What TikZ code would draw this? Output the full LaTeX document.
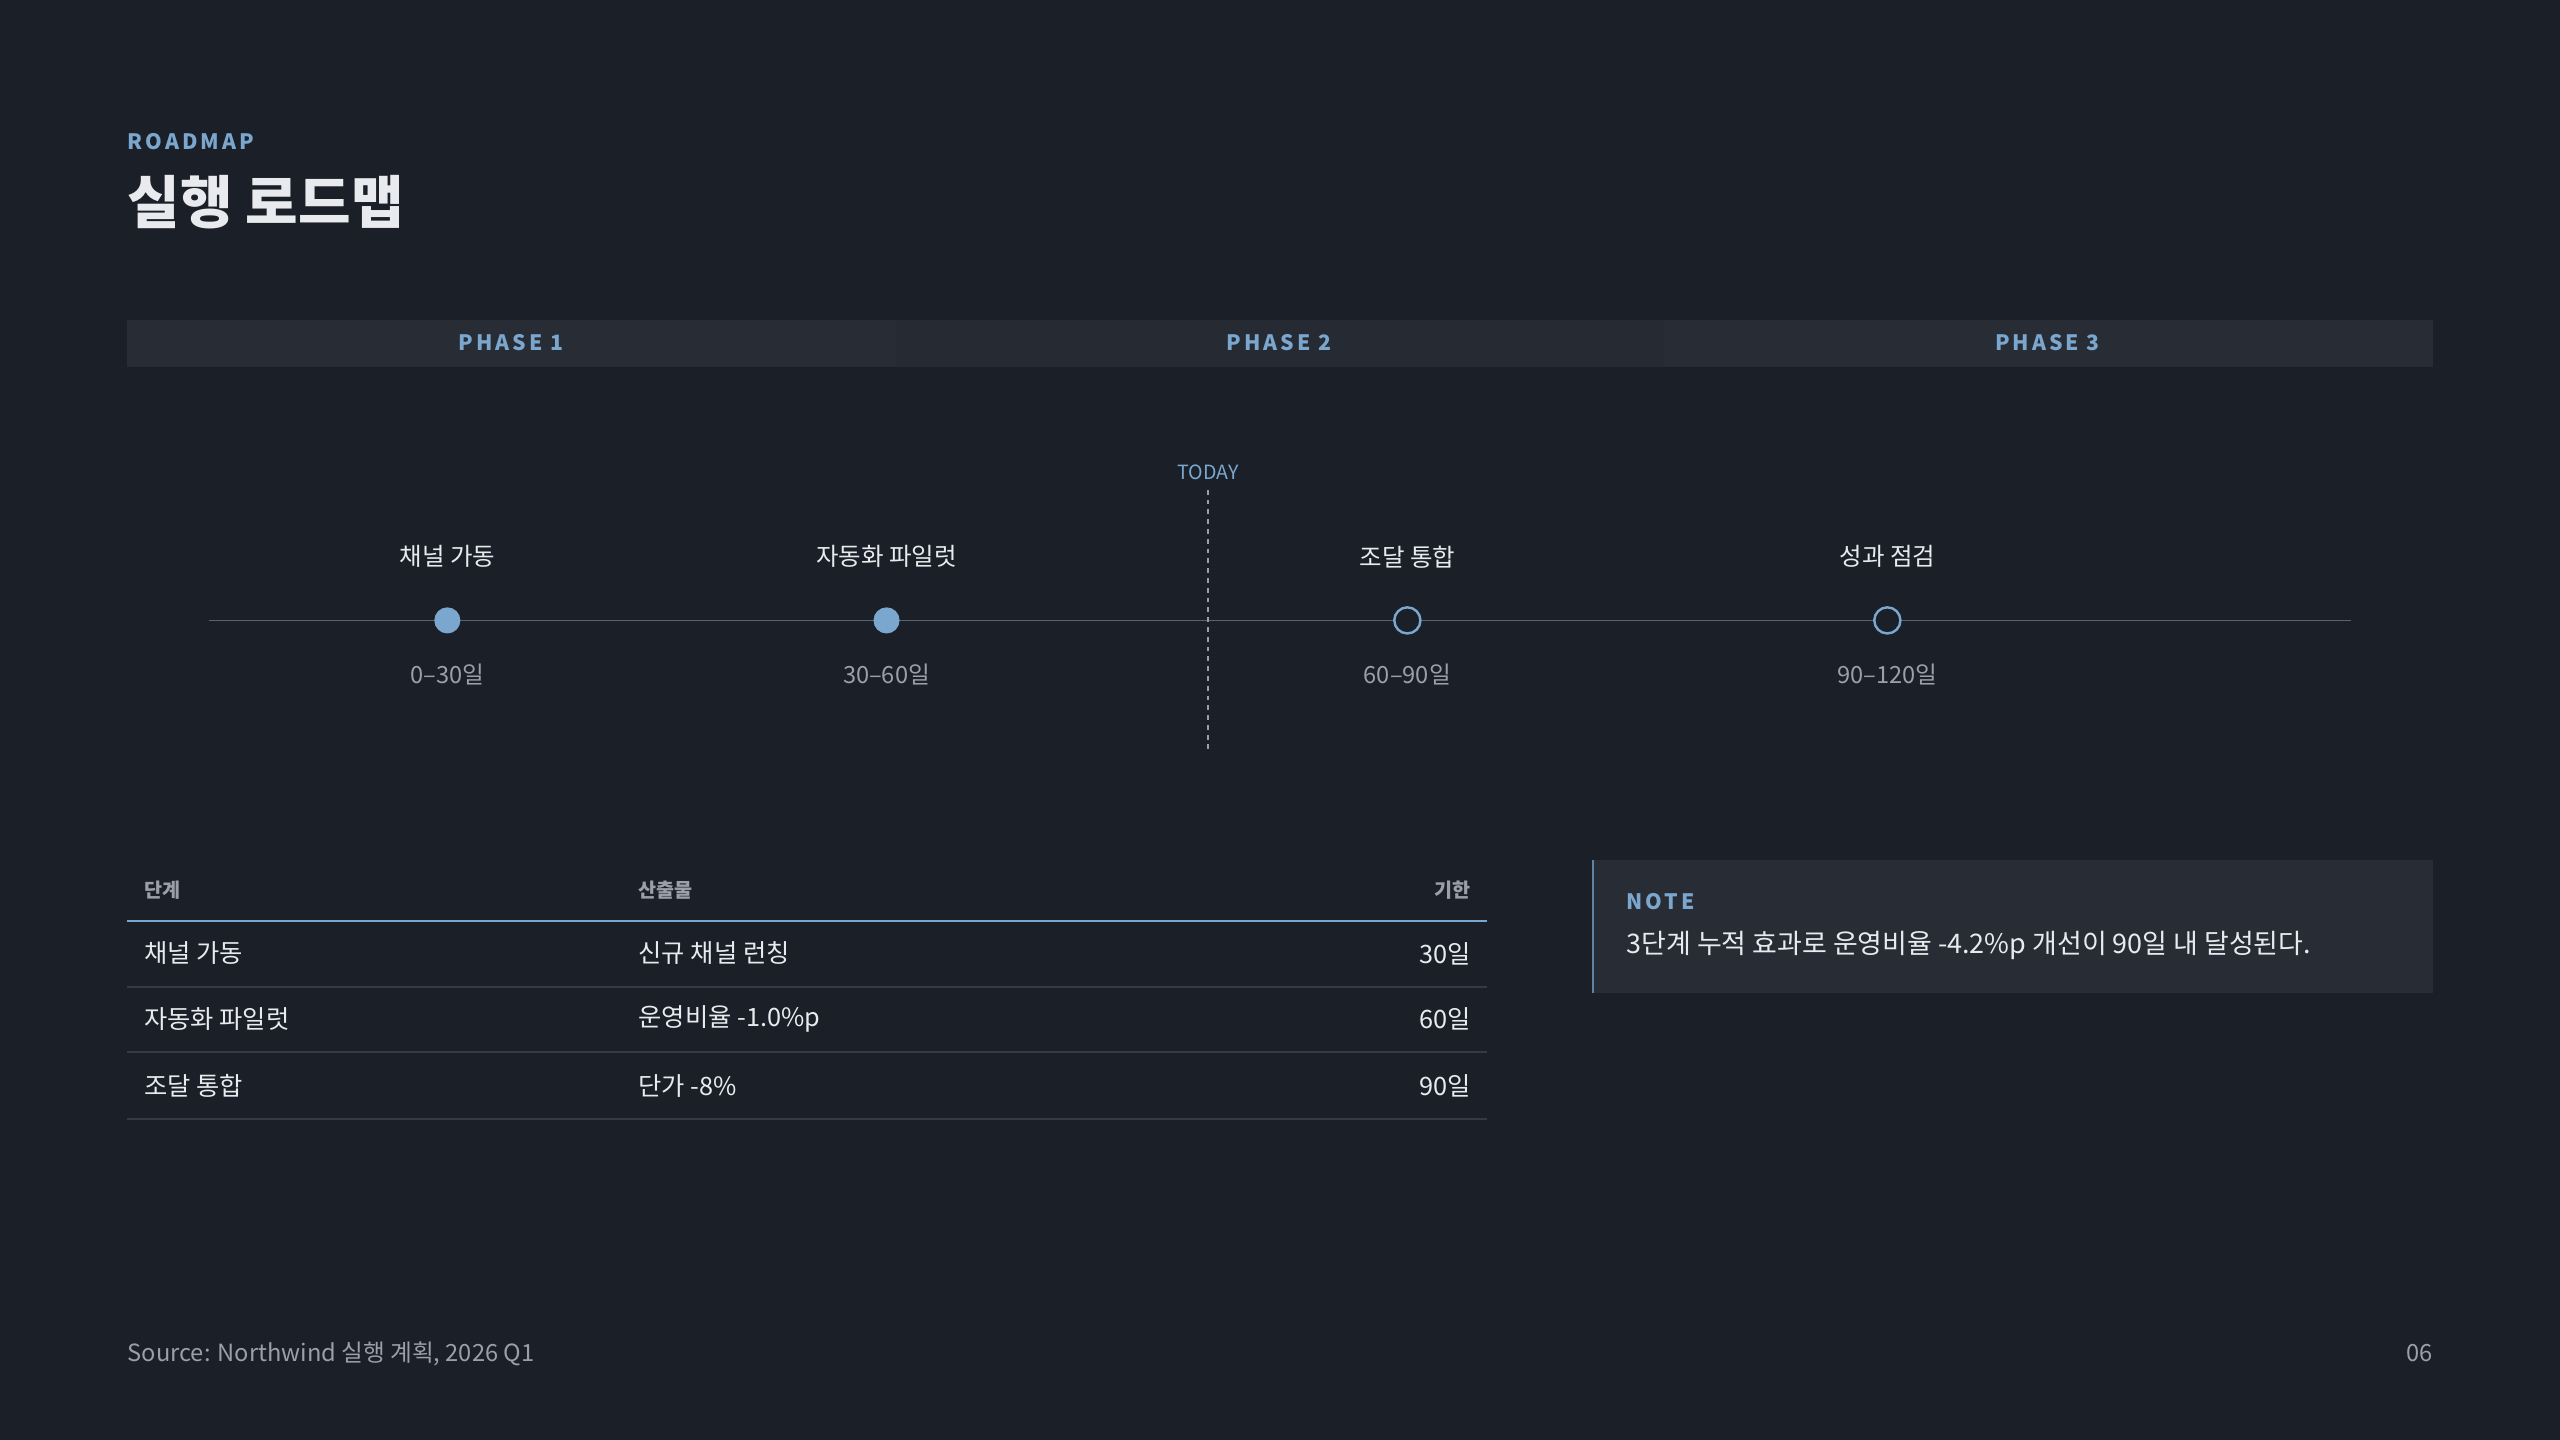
\documentclass[tikz,border=0pt]{standalone}
\usepackage{fontspec}
\setmainfont{Noto Sans CJK KR}
\newfontfamily\spaced[LetterSpace=14]{Noto Sans CJK KR}
\definecolor{bg}{HTML}{1B1F27}
\definecolor{panel}{HTML}{272C35}
\definecolor{acc}{HTML}{7BA7CF}
\definecolor{txt}{HTML}{E8EAED}
\definecolor{mut}{HTML}{9AA0A8}
\definecolor{rule}{HTML}{353A44}
\definecolor{tl}{HTML}{5C626C}
\tikzset{
 lab/.style={inner sep=0,font=\fontsize{15}{18}\selectfont,text=txt},
 sub/.style={inner sep=0,font=\fontsize{14.5}{17}\selectfont,text=mut},
 ph/.style={inner sep=0,font=\spaced\bfseries\fontsize{13}{16}\selectfont,text=acc},
 th/.style={inner sep=0,font=\fontsize{12}{15}\selectfont,text=mut},
 td/.style={inner sep=0,font=\fontsize{15.5}{18}\selectfont,text=txt},
 done/.style={circle,fill=acc,minimum size=16pt,inner sep=0},
 todo/.style={circle,draw=acc,line width=1.5pt,fill=bg,minimum size=16pt,inner sep=0},
}
\begin{document}
\begin{tikzpicture}[x=1pt,y=-1pt]
\fill[bg] (0,0) rectangle (1568,882);
\useasboundingbox (0,0) rectangle (1568,882);
\node[ph,anchor=west] (kick) at (78,87) {ROADMAP};
\node[inner sep=0,anchor=west,font=\fontsize{35}{40}\selectfont\bfseries,text=txt] (title) at (78,124) {실행 로드맵};
% phase bar
\fill[panel] (78,196) rectangle (548.7,225);
\fill[panel!85!bg] (548.7,196) rectangle (1019.3,225);
\fill[panel] (1019.3,196) rectangle (1490,225);
\node[ph] (p1) at (313,210) {PHASE 1};
\node[ph] (p2) at (783.5,210) {PHASE 2};
\node[ph] (p3) at (1254,210) {PHASE 3};
% timeline
\coordinate (tl0) at (128,380);
\coordinate (tl1) at (1440,380);
\draw[tl,line width=1pt] (tl0) -- (tl1);
\coordinate (td0) at (740,300);
\coordinate (td1) at (740,460);
\draw[mut,dashed,line width=1pt] (td0) -- (td1);
\node[inner sep=0,font=\fontsize{12}{15}\selectfont,text=acc] (today) at (740,289) {TODAY};
\node[done] (m1) at (274,380) {};
\node[done] (m2) at (543,380) {};
\node[todo] (m3) at (862,380) {};
\node[todo] (m4) at (1156,380) {};
\node[lab] (l1) at (274,341) {채널 가동};
\node[lab] (l2) at (543,341) {자동화 파일럿};
\node[lab] (l3) at (862,341) {조달 통합};
\node[lab] (l4) at (1156,341) {성과 점검};
\node[sub] (s1) at (274,413) {0–30일};
\node[sub] (s2) at (543,413) {30–60일};
\node[sub] (s3) at (862,413) {60–90일};
\node[sub] (s4) at (1156,413) {90–120일};
% table
\node[th,anchor=west] (h1) at (88,545) {\bfseries 단계};
\node[th,anchor=west] (h2) at (391,545) {\bfseries 산출물};
\node[th,anchor=east] (h3) at (901,545) {\bfseries 기한};
\draw[acc,line width=1.2pt] (78,564) -- (911,564);
\foreach \y/\a/\b/\c in {584/채널 가동/신규 채널 런칭/30일,624/자동화 파일럿/운영비율 -1.0\%p/60일,665/조달 통합/단가 -8\%/90일}{
 \node[td,anchor=west] at (88,\y) {\a};
 \node[td,anchor=west] at (391,\y) {\b};
 \node[td,anchor=east] at (901,\y) {\c};
 \draw[rule,line width=1pt] (78,\y+20.5) -- (911,\y+20.5);
}
% note
\fill[panel] (975,527) rectangle (1490,608);
\draw[acc!70!panel,line width=1.5pt] (975.75,527) -- (975.75,608);
\node[ph,anchor=west] (nt) at (996,552) {NOTE};
\node[inner sep=0,anchor=west,font=\fontsize{16.5}{19}\selectfont,text=txt] (ntx) at (996,579) {3단계 누적 효과로 운영비율 -4.2\%p 개선이 90일 내 달성된다.};
% footer
\node[sub,anchor=west] (src) at (78,829) {Source: Northwind 실행 계획, 2026 Q1};
\node[sub,anchor=east] (pg) at (1490,829) {06};
\end{tikzpicture}
\end{document}
